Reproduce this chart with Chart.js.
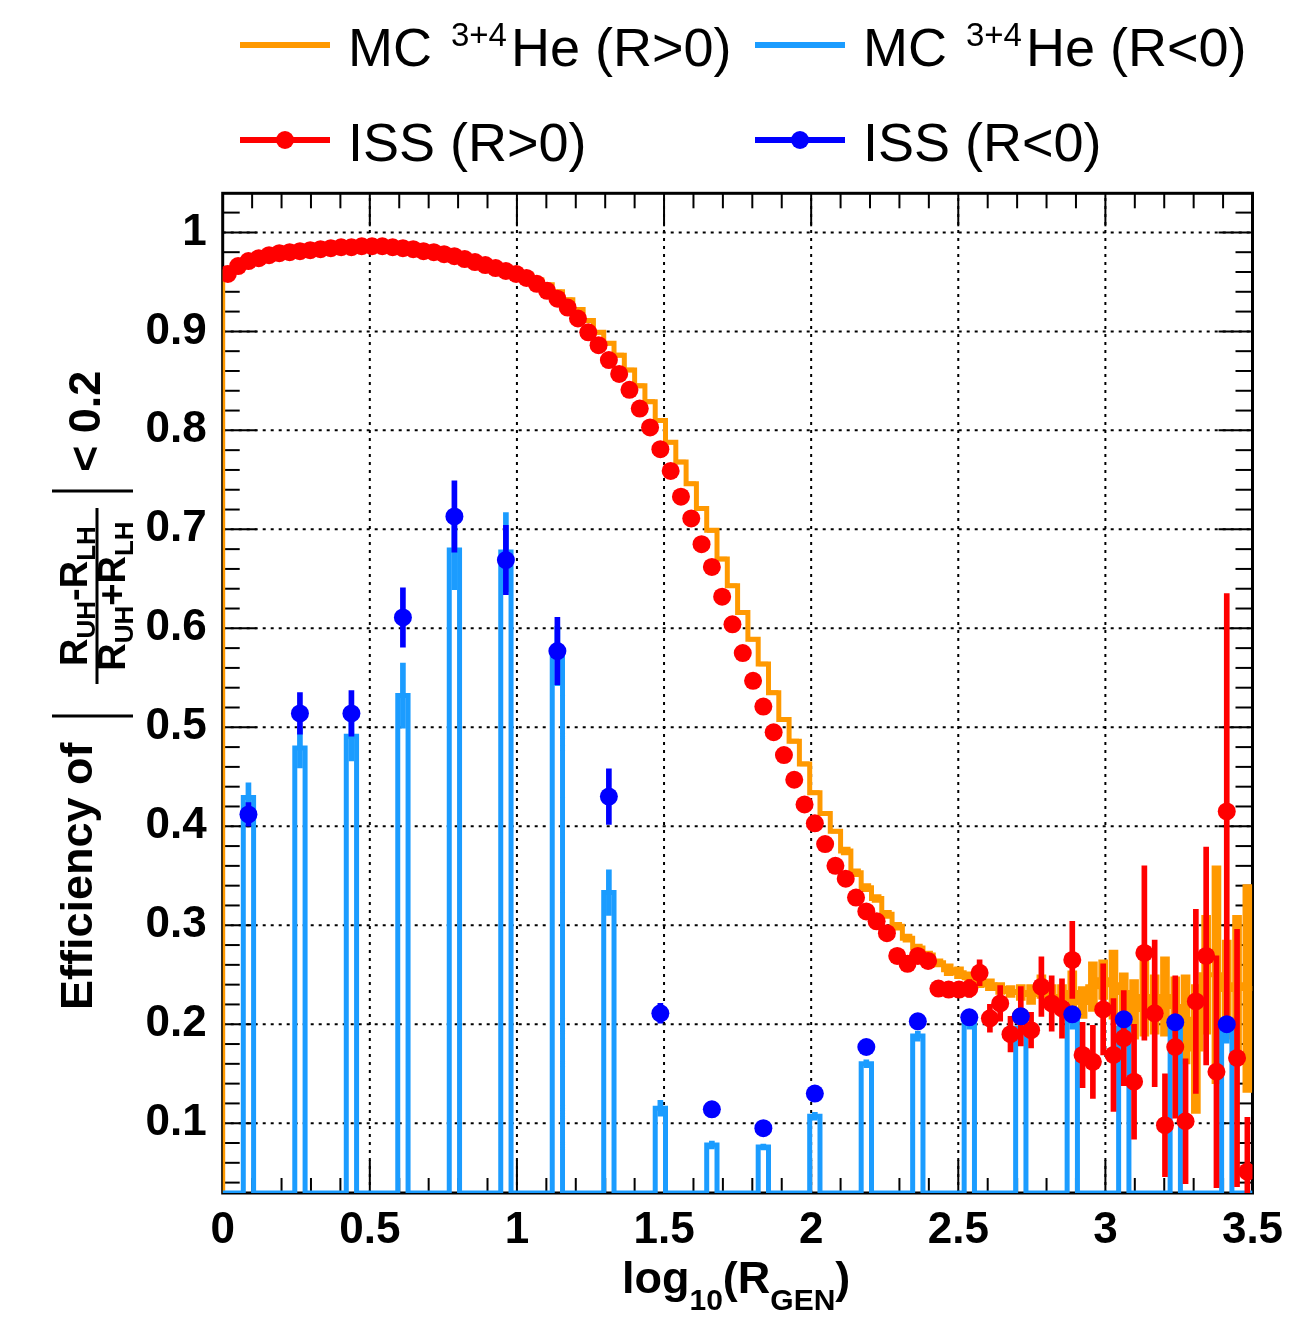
<!DOCTYPE html>
<html lang="en">
<head>
<meta charset="UTF-8" />
<title>Efficiency vs log10(R_GEN)</title>
<script src="https://cdn.jsdelivr.net/npm/chart.js"></script>
<style>
  html, body { margin: 0; padding: 0; background: #fff; }
  #wrap { width: 1309px; height: 1320px; }
</style>
</head>
<body>
<div id="wrap"><canvas id="effChart" width="1309" height="1320"></canvas></div>
<script>
// 100 bins in log10(R_GEN) from 0 to 3.5
const nBins = 100;
const xLow = 0, xHigh = 3.5;
const yLow = 0.0295, yHigh = 1.0395;

const xTickValues = [0, 0.5, 1, 1.5, 2, 2.5, 3, 3.5];
const xTickLabels = ['0', '0.5', '1', '1.5', '2', '2.5', '3', '3.5'];
const yTickValues = [0.1, 0.2, 0.3, 0.4, 0.5, 0.6, 0.7, 0.8, 0.9, 1];
const yTickLabels = ['0.1', '0.2', '0.3', '0.4', '0.5', '0.6', '0.7', '0.8', '0.9', '1'];

// ISS (R>0), one value per bin
const issPos = [
  0.958, 0.966, 0.971, 0.974, 0.977, 0.979, 0.980, 0.981, 0.982, 0.983,
  0.984, 0.985, 0.985, 0.986, 0.986, 0.986, 0.985, 0.984, 0.983, 0.981,
  0.980, 0.978, 0.976, 0.973, 0.970, 0.967, 0.964, 0.961, 0.958, 0.954,
  0.948, 0.941, 0.933, 0.924, 0.913, 0.899, 0.886, 0.871, 0.857, 0.841,
  0.822, 0.803, 0.781, 0.759, 0.733, 0.711, 0.685, 0.662, 0.632, 0.604,
  0.575, 0.547, 0.521, 0.495, 0.472, 0.447, 0.422, 0.403, 0.382, 0.360,
  0.347, 0.328, 0.314, 0.304, 0.292, 0.269, 0.261, 0.269, 0.264, 0.236,
  0.235, 0.235, 0.236, 0.252, 0.206, 0.221, 0.190, 0.208, 0.194, 0.238,
  0.221, 0.216, 0.265, 0.169, 0.162, 0.215, 0.169, 0.186, 0.142, 0.272,
  0.211, 0.098, 0.177, 0.102, 0.223, 0.269, 0.152, 0.415, 0.166, 0.051
];
const issPosErr = [
  0.003, 0.003, 0.003, 0.003, 0.003, 0.003, 0.003, 0.003, 0.003, 0.003,
  0.003, 0.003, 0.003, 0.003, 0.003, 0.003, 0.003, 0.003, 0.003, 0.003,
  0.003, 0.003, 0.003, 0.003, 0.003, 0.003, 0.003, 0.003, 0.003, 0.003,
  0.003, 0.003, 0.003, 0.003, 0.003, 0.003, 0.003, 0.003, 0.003, 0.003,
  0.003, 0.003, 0.003, 0.003, 0.003, 0.003, 0.003, 0.003, 0.003, 0.003,
  0.003, 0.003, 0.003, 0.003, 0.003, 0.003, 0.003, 0.003, 0.003, 0.003,
  0.004, 0.005, 0.005, 0.005, 0.005, 0.006, 0.006, 0.006, 0.007, 0.008,
  0.008, 0.008, 0.009, 0.013, 0.014, 0.018, 0.018, 0.030, 0.018, 0.030,
  0.028, 0.030, 0.039, 0.033, 0.037, 0.046, 0.057, 0.048, 0.058, 0.088,
  0.074, 0.052, 0.072, 0.063, 0.093, 0.110, 0.117, 0.220, 0.130, 0.055
];

// MC 3+4He (R>0), one value per bin
const mcPos = [
  0.960, 0.967, 0.972, 0.975, 0.978, 0.980, 0.981, 0.982, 0.983, 0.984,
  0.985, 0.986, 0.986, 0.987, 0.987, 0.987, 0.986, 0.985, 0.984, 0.983,
  0.981, 0.979, 0.977, 0.975, 0.972, 0.969, 0.966, 0.963, 0.960, 0.957,
  0.952, 0.947, 0.940, 0.932, 0.922, 0.911, 0.899, 0.888, 0.876, 0.861,
  0.845, 0.829, 0.810, 0.788, 0.768, 0.746, 0.721, 0.699, 0.670, 0.643,
  0.616, 0.589, 0.564, 0.535, 0.508, 0.486, 0.463, 0.434, 0.413, 0.395,
  0.375, 0.353, 0.338, 0.327, 0.311, 0.299, 0.287, 0.277, 0.270, 0.262,
  0.255, 0.252, 0.247, 0.243, 0.240, 0.236, 0.233, 0.232, 0.230, 0.238,
  0.228, 0.226, 0.232, 0.222, 0.238, 0.245, 0.240, 0.232, 0.215, 0.228,
  0.220, 0.228, 0.218, 0.205, 0.175, 0.250, 0.250, 0.235, 0.240, 0.236
];
const mcPosErr = [
  0.002, 0.002, 0.002, 0.002, 0.002, 0.002, 0.002, 0.002, 0.002, 0.002,
  0.002, 0.002, 0.002, 0.002, 0.002, 0.002, 0.002, 0.002, 0.002, 0.002,
  0.002, 0.002, 0.002, 0.002, 0.002, 0.002, 0.002, 0.002, 0.002, 0.002,
  0.002, 0.002, 0.002, 0.002, 0.002, 0.002, 0.002, 0.002, 0.002, 0.002,
  0.002, 0.002, 0.002, 0.002, 0.002, 0.002, 0.002, 0.002, 0.002, 0.002,
  0.002, 0.002, 0.002, 0.002, 0.002, 0.002, 0.002, 0.002, 0.002, 0.002,
  0.004, 0.004, 0.004, 0.004, 0.004, 0.004, 0.004, 0.004, 0.004, 0.004,
  0.006, 0.006, 0.006, 0.006, 0.006, 0.006, 0.006, 0.008, 0.010, 0.012,
  0.012, 0.014, 0.022, 0.016, 0.025, 0.020, 0.035, 0.020, 0.030, 0.040,
  0.030, 0.040, 0.030, 0.045, 0.065, 0.060, 0.110, 0.050, 0.070, 0.105
];

// R<0 entries only filled every fifth bin
const negBins = [2, 7, 12, 17, 22, 27, 32, 37, 42, 47, 52, 57, 62, 67, 72, 77, 82, 87, 92, 97];
const mcNeg = [0.429, 0.479, 0.491, 0.532, 0.679, 0.677, 0.572, 0.333, 0.115, 0.078,
               0.076, 0.107, 0.160, 0.188, 0.201, 0.196, 0.203, 0.196, 0.196, 0.193];
const mcNegErr = [0.015, 0.020, 0.025, 0.033, 0.040, 0.040, 0.030, 0.023, 0.008, 0.004,
                  0.003, 0.004, 0.004, 0.005, 0.006, 0.007, 0.008, 0.009, 0.010, 0.012];
const issNeg = [0.412, 0.514, 0.514, 0.611, 0.713, 0.669, 0.577, 0.430, 0.211, 0.114,
                0.095, 0.130, 0.177, 0.203, 0.207, 0.208, 0.210, 0.205, 0.202, 0.200];
const issNegErr = [0.012, 0.021, 0.023, 0.030, 0.036, 0.035, 0.034, 0.028, 0.010, 0.004,
                   0.003, 0.004, 0.004, 0.004, 0.005, 0.005, 0.006, 0.006, 0.007, 0.008];

const ORANGE = '#ff9900', AZURE = '#1b9cff', RED = '#ff0000', BLUE = '#0000ff';
const FONT = '"Liberation Sans", Arial, sans-serif';

const binWidth = (xHigh - xLow) / nBins;
const binLo = i => xLow + i * binWidth;
const binCenter = i => xLow + (i + 0.5) * binWidth;

// histogram outline, starting from the bottom of the frame
function stepOutline(values) {
    const pts = [{x: xLow, y: yLow}];
    values.forEach((v, i) => {
        const y = Math.max(v, yLow);
        pts.push({x: binLo(i), y: y}, {x: binLo(i + 1), y: y});
    });
    return pts;
}
function errBars(values, errs, bins) {
    return values.map((v, k) => {
        const b = bins ? bins[k] : k;
        return {x: binCenter(b), y: [v - errs[k], v + errs[k]]};
    });
}
function points(values, bins) {
    return values.map((v, k) => ({x: binCenter(bins ? bins[k] : k), y: v}));
}

const mcNegFull = new Array(nBins).fill(0);
negBins.forEach((b, k) => { mcNegFull[b] = mcNeg[k]; });

// frame, dotted grid and inward ticks (drawn under the data, like ROOT)
const framePlugin = {
    id: 'frame',
    beforeDatasetsDraw(chart) {
        const {ctx, chartArea: a, scales: {x, y}} = chart;
        ctx.save();
        ctx.strokeStyle = '#000';
        ctx.lineWidth = 2;
        ctx.setLineDash([3, 5]);
        xTickValues.slice(1, -1).forEach(v => {
            const px = x.getPixelForValue(v);
            ctx.beginPath(); ctx.moveTo(px, a.bottom); ctx.lineTo(px, a.top); ctx.stroke();
        });
        yTickValues.forEach(v => {
            const py = y.getPixelForValue(v);
            ctx.beginPath(); ctx.moveTo(a.left, py); ctx.lineTo(a.right, py); ctx.stroke();
        });
        ctx.setLineDash([]);
        ctx.lineWidth = 2;
        for (let k = 1; k < 35; k++) {
            const px = x.getPixelForValue(k / 10);
            const len = k % 5 === 0 ? 33 : 15;
            ctx.beginPath(); ctx.moveTo(px, a.bottom); ctx.lineTo(px, a.bottom - len); ctx.stroke();
            ctx.beginPath(); ctx.moveTo(px, a.top); ctx.lineTo(px, a.top + len); ctx.stroke();
        }
        for (let k = 2; k <= 52; k++) {
            const v = k / 50;
            if (v <= yLow || v >= yHigh) continue;
            const py = y.getPixelForValue(v);
            const len = k % 5 === 0 ? 34 : 17;
            ctx.beginPath(); ctx.moveTo(a.left, py); ctx.lineTo(a.left + len, py); ctx.stroke();
            ctx.beginPath(); ctx.moveTo(a.right, py); ctx.lineTo(a.right - len, py); ctx.stroke();
        }
        ctx.lineWidth = 3;
        ctx.strokeRect(a.left, a.top, a.right - a.left, a.bottom - a.top);
        ctx.restore();
    }
};

// text runs with sub/superscripts, optionally rotated
function drawRich(ctx, parts, x, y, angle) {
    ctx.save();
    ctx.translate(x, y);
    ctx.rotate(angle || 0);
    ctx.textBaseline = 'alphabetic';
    ctx.textAlign = 'left';
    let pos = 0;
    parts.forEach(p => {
        ctx.font = p.font;
        ctx.fillText(p.text, pos, p.dy || 0);
        pos += ctx.measureText(p.text).width + (p.gap || 0);
    });
    ctx.restore();
    return pos;
}
function richWidth(ctx, parts) {
    let w = 0;
    parts.forEach(p => { ctx.font = p.font; w += ctx.measureText(p.text).width + (p.gap || 0); });
    return w;
}

const titlePlugin = {
    id: 'titles',
    afterDraw(chart) {
        const ctx = chart.ctx;
        ctx.save();
        ctx.fillStyle = '#000';
        const B45 = 'bold 45px ' + FONT, B30 = 'bold 30px ' + FONT;

        // x axis title
        drawRich(ctx, [
            {text: 'log', font: B45}, {text: '10', font: B30, dy: 17},
            {text: '(R', font: B45}, {text: 'GEN', font: B30, dy: 17},
            {text: ')', font: B45}
        ], 622, 1293, 0);

        // y axis title, rotated
        const up = -Math.PI / 2;
        drawRich(ctx, [{text: 'Efficiency of', font: B45}], 92, 1010, up);
        const B38 = 'bold 38px ' + FONT, B26 = 'bold 26px ' + FONT;
        const num = [
            {text: 'R', font: B38}, {text: 'UH', font: B26, dy: 8},
            {text: '-R', font: B38}, {text: 'LH', font: B26, dy: 8}
        ];
        const den = [
            {text: 'R', font: B38}, {text: 'UH', font: B26, dy: 8},
            {text: '+R', font: B38}, {text: 'LH', font: B26, dy: 8}
        ];
        const mid = 596;
        drawRich(ctx, num, 87, mid + richWidth(ctx, num) / 2, up);
        drawRich(ctx, den, 125, mid + richWidth(ctx, den) / 2, up);
        ctx.strokeStyle = '#000';
        ctx.lineWidth = 3;
        ctx.beginPath(); ctx.moveTo(97, 684); ctx.lineTo(97, 508); ctx.stroke();
        ctx.beginPath(); ctx.moveTo(52, 716); ctx.lineTo(133, 716); ctx.stroke();
        ctx.beginPath(); ctx.moveTo(52, 491); ctx.lineTo(133, 491); ctx.stroke();
        drawRich(ctx, [{text: '< 0.2', font: B45}], 100, 472, up);

        // legend, two columns
        const R54 = '54px ' + FONT, R33 = '33px ' + FONT;
        const entries = [
            {x: 240, y: 45, color: ORANGE, dot: false, parts: [
                {text: 'MC ', font: R54, gap: 4}, {text: '3+4', font: R33, dy: -20, gap: 4},
                {text: 'He (R>0)', font: R54}]},
            {x: 755, y: 45, color: AZURE, dot: false, parts: [
                {text: 'MC ', font: R54, gap: 4}, {text: '3+4', font: R33, dy: -20, gap: 4},
                {text: 'He (R<0)', font: R54}]},
            {x: 240, y: 140, color: RED, dot: true, parts: [{text: 'ISS (R>0)', font: R54}]},
            {x: 755, y: 140, color: BLUE, dot: true, parts: [{text: 'ISS (R<0)', font: R54}]}
        ];
        entries.forEach(e => {
            ctx.strokeStyle = e.color;
            ctx.fillStyle = e.color;
            ctx.lineWidth = 6;
            ctx.beginPath(); ctx.moveTo(e.x, e.y); ctx.lineTo(e.x + 90, e.y); ctx.stroke();
            if (e.dot) {
                ctx.beginPath(); ctx.arc(e.x + 45, e.y, 9, 0, Math.PI * 2); ctx.fill();
            }
            ctx.fillStyle = '#000';
            drawRich(ctx, e.parts, e.x + 108, e.y + 21, 0);
        });
        ctx.restore();
    }
};

const tickFont = {family: FONT, size: 44, weight: 'bold'};

new Chart(document.getElementById('effChart'), {
    type: 'scatter',
    data: {
        datasets: [
            {type: 'line', data: stepOutline(mcPos), borderColor: ORANGE, borderWidth: 5,
             pointRadius: 0, fill: false, tension: 0, order: 8},
            {type: 'bar', data: errBars(mcPos, mcPosErr), backgroundColor: ORANGE,
             barThickness: 9, grouped: false, borderWidth: 0, order: 7},
            {type: 'line', data: stepOutline(mcNegFull), borderColor: AZURE, borderWidth: 5,
             pointRadius: 0, fill: false, tension: 0, order: 6},
            {type: 'bar', data: errBars(mcNeg, mcNegErr, negBins), backgroundColor: AZURE,
             barThickness: 5, grouped: false, borderWidth: 0, order: 5},
            {type: 'bar', data: errBars(issPos, issPosErr), backgroundColor: RED,
             barThickness: 5, grouped: false, borderWidth: 0, order: 4},
            {type: 'scatter', data: points(issPos), backgroundColor: RED, borderColor: RED,
             pointRadius: 9, pointHoverRadius: 9, borderWidth: 0, order: 3},
            {type: 'bar', data: errBars(issNeg, issNegErr, negBins), backgroundColor: BLUE,
             barThickness: 5, grouped: false, borderWidth: 0, order: 2},
            {type: 'scatter', data: points(issNeg, negBins), backgroundColor: BLUE, borderColor: BLUE,
             pointRadius: 9, pointHoverRadius: 9, borderWidth: 0, order: 1}
        ]
    },
    options: {
        responsive: false,
        animation: false,
        devicePixelRatio: 1,
        layout: {padding: {left: 0, right: 56.5, top: 193.3, bottom: 0}},
        plugins: {legend: {display: false}, tooltip: {enabled: false}},
        scales: {
            x: {
                type: 'linear', min: xLow, max: xHigh, offset: false,
                grid: {display: false, offset: false}, border: {display: false},
                afterBuildTicks: s => { s.ticks = xTickValues.map(v => ({value: v})); },
                afterFit: s => { s.height = 127; },
                ticks: {callback: (v, i) => xTickLabels[i], font: tickFont, color: '#000',
                        padding: 3, maxRotation: 0, autoSkip: false}
            },
            y: {
                type: 'linear', min: yLow, max: yHigh, beginAtZero: false,
                grid: {display: false}, border: {display: false},
                afterBuildTicks: s => { s.ticks = yTickValues.map(v => ({value: v})); },
                afterFit: s => { s.width = 222.7; },
                ticks: {callback: (v, i) => yTickLabels[i], font: tickFont, color: '#000',
                        padding: 8, autoSkip: false}
            }
        }
    },
    plugins: [framePlugin, titlePlugin]
});
</script>
</body>
</html>
